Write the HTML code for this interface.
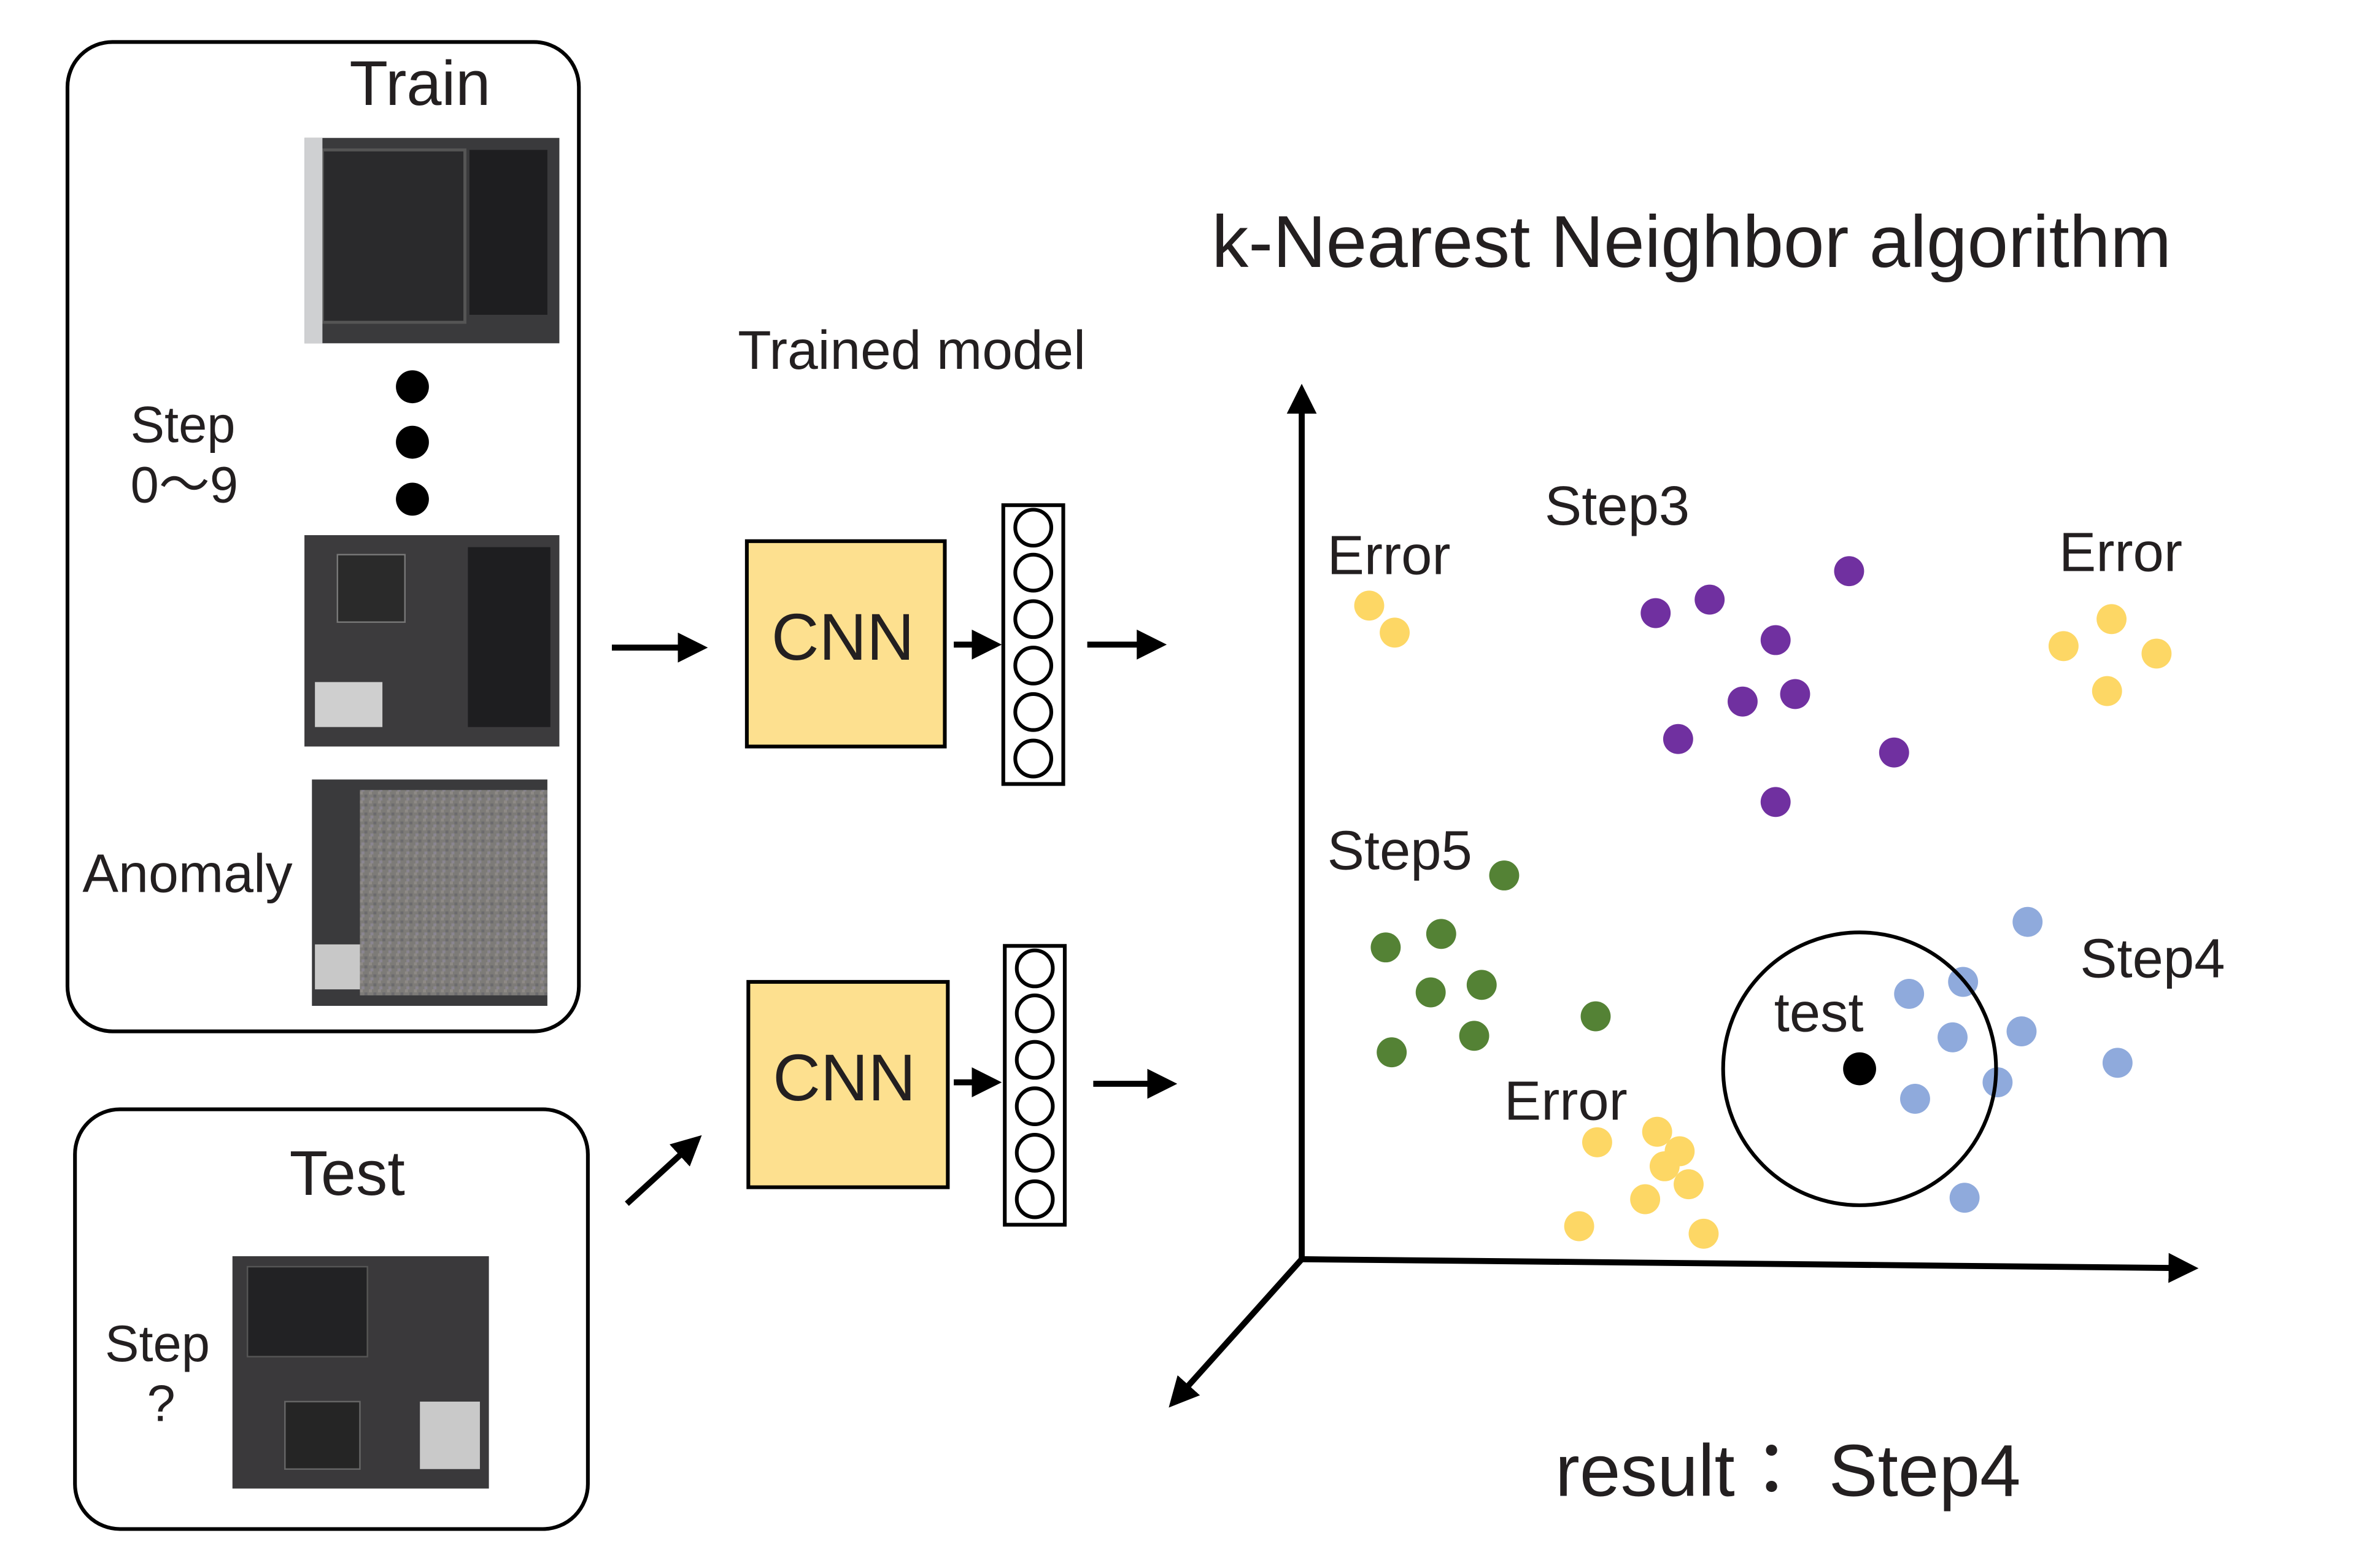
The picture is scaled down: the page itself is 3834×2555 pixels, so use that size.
<!DOCTYPE html>
<html><head><meta charset="utf-8"><style>
html,body{margin:0;padding:0;background:#fff;}
svg{display:block;}
text{font-family:"Liberation Sans","Noto Sans CJK JP",sans-serif;fill:#231f20;}
</style></head><body>
<svg width="3834" height="2555" viewBox="0 0 1569 1046" preserveAspectRatio="none" xmlns="http://www.w3.org/2000/svg">
<defs>
<marker id="ah" markerWidth="5" markerHeight="5" refX="4" refY="2.5" orient="auto" markerUnits="strokeWidth">
<path d="M0,0 L5,2.5 L0,5 z" fill="#000"/></marker>
<pattern id="noise" width="6" height="6" patternUnits="userSpaceOnUse">
<rect width="6" height="6" fill="#7d7b78"/><rect x="0" y="0" width="2" height="2" fill="#8e8a86"/><rect x="3" y="2" width="2" height="2" fill="#6c6b6d"/><rect x="1" y="4" width="2" height="2" fill="#8a8690"/></pattern>
</defs>
<rect x="0" y="0" width="1569" height="1046" fill="#fff"/>
<rect x="45" y="28" width="341" height="660" rx="30" fill="none" stroke="#000" stroke-width="2.5"/>
<text x="233" y="70" font-size="42">Train</text>
<rect x="203" y="92" width="170" height="137" fill="#3a3a3c"/>
<rect x="215" y="100" width="95" height="115" fill="#2a2a2c" stroke="#555" stroke-width="2"/>
<rect x="313" y="100" width="52" height="110" fill="#1e1e20"/>
<rect x="203" y="92" width="12" height="137" fill="#cfd0d2"/>
<circle cx="275" cy="258" r="11" fill="#000"/><circle cx="275" cy="295" r="11" fill="#000"/><circle cx="275" cy="333" r="11" fill="#000"/>
<text x="87" y="295" font-size="34">Step</text>
<text x="87" y="335" font-size="34">0〜9</text>
<rect x="203" y="357" width="170" height="141" fill="#3c3b3d"/>
<rect x="210" y="455" width="45" height="30" fill="#cfcfcf"/>
<rect x="312" y="365" width="55" height="120" fill="#1e1e20"/>
<rect x="225" y="370" width="45" height="45" fill="#2a2a2a" stroke="#777"/>
<rect x="208" y="520" width="157" height="151" fill="#3a3a3c"/>
<rect x="240" y="527" width="125" height="137" fill="url(#noise)"/>
<rect x="210" y="630" width="30" height="30" fill="#c8c8c8"/>
<text x="55" y="595" font-size="36">Anomaly</text>
<rect x="50" y="740" width="342" height="280" rx="30" fill="none" stroke="#000" stroke-width="2.5"/>
<text x="193" y="797" font-size="42">Test</text>
<rect x="155" y="838" width="171" height="155" fill="#3a393b"/>
<rect x="165" y="845" width="80" height="60" fill="#222224" stroke="#555"/>
<rect x="280" y="935" width="40" height="45" fill="#c9c9c9"/>
<rect x="190" y="935" width="50" height="45" fill="#252525" stroke="#666"/>
<text x="70" y="908" font-size="34">Step</text>
<text x="98" y="948" font-size="34">?</text>
<g stroke="#000" stroke-width="4" marker-end="url(#ah)">
<line x1="408" y1="432" x2="468" y2="432"/>
<line x1="418" y1="803" x2="465" y2="760"/>
<line x1="725" y1="430" x2="774" y2="430"/>
<line x1="729" y1="723" x2="781" y2="723"/>
<line x1="636" y1="430" x2="664" y2="430"/>
<line x1="636" y1="722" x2="664" y2="722"/>
</g>
<rect x="498" y="361" width="132" height="137" fill="#fde08f" stroke="#000" stroke-width="2.5"/>
<text x="562" y="440" font-size="44" text-anchor="middle">CNN</text>
<rect x="499" y="655" width="133" height="137" fill="#fde08f" stroke="#000" stroke-width="2.5"/>
<text x="563" y="734" font-size="44" text-anchor="middle">CNN</text>
<rect x="669" y="337" width="40" height="186" fill="#fff" stroke="#000" stroke-width="2.5"/>
<rect x="670" y="631" width="40" height="186" fill="#fff" stroke="#000" stroke-width="2.5"/>
<g fill="none" stroke="#000" stroke-width="2.5">
<circle cx="689" cy="352" r="12"/><circle cx="689" cy="382" r="12"/><circle cx="689" cy="413" r="12"/><circle cx="689" cy="444" r="12"/><circle cx="689" cy="475" r="12"/><circle cx="689" cy="506" r="12"/>
<circle cx="690" cy="646" r="12"/><circle cx="690" cy="676" r="12"/><circle cx="690" cy="707" r="12"/><circle cx="690" cy="738" r="12"/><circle cx="690" cy="769" r="12"/><circle cx="690" cy="800" r="12"/>
</g>
<text x="492" y="246" font-size="36.5">Trained model</text>
<text x="808" y="178" font-size="49">k-Nearest Neighbor algorithm</text>
<g stroke="#000" stroke-width="4" marker-end="url(#ah)">
<line x1="868" y1="840" x2="868" y2="260"/>
<line x1="868" y1="840" x2="1462" y2="846"/>
<line x1="868" y1="840" x2="782" y2="936"/>
</g>
<g font-size="37">
<text x="885" y="383">Error</text>
<text x="1030" y="350">Step3</text>
<text x="1373" y="381">Error</text>
<text x="885" y="580">Step5</text>
<text x="1387" y="652">Step4</text>
<text x="1003" y="747">Error</text>
<text x="1183" y="688">test</text>
</g>
<text x="1037" y="998" font-size="49">result：  Step4</text>
<g fill="#fdd765">
<circle cx="913" cy="404" r="10"/><circle cx="930" cy="422" r="10"/><circle cx="1376" cy="431" r="10"/><circle cx="1408" cy="413" r="10"/><circle cx="1438" cy="436" r="10"/><circle cx="1405" cy="461" r="10"/><circle cx="1065" cy="762" r="10"/><circle cx="1105" cy="755" r="10"/><circle cx="1120" cy="768" r="10"/><circle cx="1110" cy="778" r="10"/><circle cx="1126" cy="790" r="10"/><circle cx="1097" cy="800" r="10"/><circle cx="1053" cy="818" r="10"/><circle cx="1136" cy="823" r="10"/>
</g>
<g fill="#7030a0">
<circle cx="1104" cy="409" r="10"/><circle cx="1140" cy="400" r="10"/><circle cx="1233" cy="381" r="10"/><circle cx="1184" cy="427" r="10"/><circle cx="1162" cy="468" r="10"/><circle cx="1197" cy="463" r="10"/><circle cx="1119" cy="493" r="10"/><circle cx="1263" cy="502" r="10"/><circle cx="1184" cy="535" r="10"/>
</g>
<g fill="#548235">
<circle cx="1003" cy="584" r="10"/><circle cx="924" cy="632" r="10"/><circle cx="961" cy="623" r="10"/><circle cx="954" cy="662" r="10"/><circle cx="988" cy="657" r="10"/><circle cx="928" cy="702" r="10"/><circle cx="983" cy="691" r="10"/><circle cx="1064" cy="678" r="10"/>
</g>
<g fill="#8faadc">
<circle cx="1352" cy="615" r="10"/><circle cx="1273" cy="663" r="10"/><circle cx="1309" cy="655" r="10"/><circle cx="1302" cy="692" r="10"/><circle cx="1348" cy="688" r="10"/><circle cx="1332" cy="722" r="10"/><circle cx="1277" cy="733" r="10"/><circle cx="1412" cy="709" r="10"/><circle cx="1310" cy="799" r="10"/>
</g>
<circle cx="1240" cy="713" r="91" fill="none" stroke="#000" stroke-width="2.5"/>
<circle cx="1240" cy="713" r="11" fill="#000"/>
</svg>
</body></html>
